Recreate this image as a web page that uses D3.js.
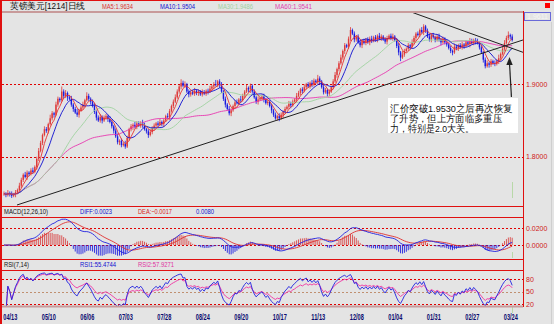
<!DOCTYPE html>
<html><head><meta charset="utf-8">
<script src="https://cdn.jsdelivr.net/npm/d3@7"></script>
<style>
html,body{margin:0;padding:0;background:#e4e4e4;overflow:hidden}
svg{display:block}
text{font-family:"Liberation Sans",Arial,sans-serif}
</style></head><body>
<svg id="c" width="554" height="324"></svg>
<script>
// ---------------- DATA ----------------
const closes = [
1.749,1.747,1.750,1.749,1.746,1.748,1.751,1.754,
1.760,1.768,1.775,1.772,1.778,1.776,1.781,1.779,1.786,
1.797,1.808,1.819,1.830,1.838,1.836,1.845,1.853,1.860,1.858,1.872,1.880,1.878,
1.890,1.884,1.888,1.882,1.880,1.872,
1.866,1.861,1.858,1.864,1.868,
1.872,1.878,1.884,1.880,1.876,1.870,
1.862,1.854,1.850,1.855,1.850,
1.854,1.856,1.852,1.848,
1.842,1.836,1.828,1.820,1.822,1.816,1.818,1.814,
1.826,1.838,1.842,
1.844,1.841,1.846,1.843,1.847,1.844,1.838,
1.835,1.830,1.834,1.840,
1.843,1.846,1.844,1.848,1.845,1.850,1.856,1.855,1.863,
1.870,1.876,1.882,1.890,1.897,1.902,1.898,1.900,
1.890,1.886,1.889,1.887,1.891,1.888,1.890,1.886,1.889,1.887,1.891,1.890,
1.894,1.897,1.900,1.899,1.904,1.899,
1.890,1.880,1.872,1.866,1.860,1.864,
1.870,1.875,1.874,1.879,1.878,1.884,
1.890,1.895,1.893,1.898,1.890,
1.882,1.876,1.879,1.881,1.883,1.879,1.874,1.876,1.870,
1.864,1.858,1.853,1.856,
1.853,1.858,1.862,1.866,1.869,1.873,1.871,1.876,1.879,1.884,
1.888,1.893,1.891,1.896,1.900,1.897,1.902,1.900,1.905,1.903,
1.908,1.904,1.896,1.889,1.892,1.887,1.890,1.896,
1.904,1.913,1.921,1.929,1.937,1.946,1.954,1.952,1.963,1.975,1.970,
1.962,1.966,1.958,1.954,1.960,1.957,1.962,1.958,1.963,1.960,1.965,1.962,1.967,1.963,
1.966,1.962,1.959,1.963,1.967,1.964,1.966,1.961,
1.953,1.944,1.937,1.941,
1.946,1.949,1.954,1.952,1.958,
1.964,1.970,1.968,1.975,1.972,1.980,1.974,1.966,
1.962,1.968,1.965,1.961,1.966,
1.962,1.958,1.963,1.958,1.955,1.950,
1.946,1.944,1.952,1.950,
1.954,1.951,1.955,1.953,1.958,1.956,1.960,1.957,1.961,1.959,
1.957,1.951,1.944,1.934,1.925,1.929,1.927,1.932,1.929,
1.928,1.932,1.936,1.942,1.949,1.957,1.964,1.968,1.966,1.961
];
const firstOpen = 1.748;
// wick lengths above / below the candle body, in thousandths
const upWick = [
3,2,4,2,3,2,3,2,4,3, 2,4,3,2,3,4,2,3,4,3, 2,4,3,2,5,3,2,4,3,2, 7,3,4,2,3,4,2,3,5,2,
3,4,2,5,3,2,3,4,2,3, 4,2,3,3,2,4,3,2,3,4, 2,3,2,4,3,2,3,2,4,3, 3,2,4,3,2,3,4,2,3,2,
3,4,2,3,2,4,3,2,3,4, 3,2,5,3,4,2,3,2,3,4, 2,3,2,4,3,2,3,4,2,3, 6,2,3,4,2,3,2,4,3,2,
3,4,2,5,3,2,4,2,3,2, 3,2,4,2,3,4,2,3,2,3, 2,3,2,4,3,2,3,2,4,3, 3,2,4,3,2,3,4,2,3,2,
4,3,2,5,3,2,4,3,2,3, 2,3,4,2,3,4,2,3,2,3, 4,2,3,2,3,4,2,3,2,3, 3,4,2,3,2,4,3,2,3,4,
2,3,4,2,3,4,2,5,3,2, 3,2,4,3,2,3,2,4,3,2, 3,4,2,3,2,3,4,2,3,2, 4,2,3,2,4,3,2,3,4,2,
3,2,4,3,2,3,4,2,3,2, 3,4,2,3,2,4,3,5,2,3, 4,3,5,2,3
];
const dnWick = [
2,3,2,4,3,2,4,3,2,3, 3,2,4,3,2,3,2,4,3,2, 3,2,3,4,2,3,4,2,3,3, 2,4,3,5,2,3,4,2,3,4,
2,3,4,2,3,4,2,3,4,2, 3,4,2,3,4,2,3,4,2,3, 4,3,2,3,2,4,3,5,2,3, 2,3,4,2,3,4,2,3,4,2,
3,2,3,4,2,3,4,2,3,2, 2,3,4,2,3,2,4,3,2,3, 3,4,2,3,2,3,4,2,3,4, 2,3,4,2,3,4,2,3,4,2,
3,2,3,4,2,3,2,4,5,3, 2,3,4,2,3,4,2,3,2,4, 3,2,3,4,2,5,3,2,3,4, 2,3,4,2,3,4,2,3,2,3,
4,3,2,3,4,2,3,2,4,3, 2,3,2,4,3,2,3,4,2,3, 3,2,4,3,2,3,4,2,3,2, 4,3,2,3,4,2,3,2,3,4,
2,3,4,2,3,4,5,2,3,2, 3,4,2,3,4,2,3,2,4,3, 2,3,4,2,3,2,3,4,2,3, 3,2,3,4,2,3,4,2,3,4,
2,3,5,2,3,4,2,3,2,4, 3,2,4,3,2,3,2,4,3,2, 3,2,3,4,2
];
const tickLabels = ["04/13","05/10","06/06","07/03","07/28","08/24","09/20","10/17","11/13","12/08","01/04","01/31","02/27","03/24"];
const tickBars   = [3,23,43,63,83,103,123,143,163,183,203,223,243,263];
const priceTicks = [1.9, 1.8];
const macdTicks  = [0.02, 0];
const rsiTicks   = [80, 50, 20];
const maPeriods  = [5, 10, 30, 60];
const maShown    = [1.9634, 1.9504, 1.9486, 1.9541];   // legend values as printed
const macdShown  = [0.0023, -0.0017, 0.0080];           // DIFF, DEA, MACD as printed
const rsiShown   = [55.4744, 57.9271];                  // RSI1, RSI2 as printed
const trendUp    = [[6.75, 1.7333], [269.6, 1.9612]];
const trendDown  = [[212.5, 1.9989], [269.6, 1.9442]];
const arrowPts   = [[263.6, 1.8825], [262.6, 1.9377]];
const lastPrice  = 1.9611;
const titleText  = "英镑美元[1214]日线";
const noteLines  = ["汇价突破1.9530之后再次恢复", "了升势，但上方面临多重压", "力，特别是2.0大关。"];

// ---------------- DERIVED ----------------
const n = closes.length;
const opens = closes.map((c, i) => i === 0 ? firstOpen : closes[i - 1]);
const highs = closes.map((c, i) => Math.max(c, opens[i]) + upWick[i] / 1000);
const lows  = closes.map((c, i) => Math.min(c, opens[i]) - dnWick[i] / 1000);
function ma(p) { return closes.map((c, i) => d3.mean(closes.slice(Math.max(0, i - p + 1), i + 1))); }
const mas = maPeriods.map(ma);
function emaArr(arr, p) { const k = 2 / (p + 1); const out = []; arr.forEach((v, i) => out.push(i === 0 ? v : out[i - 1] + k * (v - out[i - 1]))); return out; }
const e12 = emaArr(closes, 12), e26 = emaArr(closes, 26);
const diff = closes.map((c, i) => e12[i] - e26[i]);
const dea = (() => { const k = 2 / 11; const o = []; diff.forEach((v, i) => o.push(i === 0 ? 0 : o[i - 1] + k * (v - o[i - 1]))); return o; })();
const hist = diff.map((v, i) => 2 * (v - dea[i]));
function rsi(N) {
  let up = 0, ab = 0; const o = [];
  closes.forEach((c, i) => {
    if (i === 0) { o.push(null); return; }
    const d = c - closes[i - 1];
    up = (Math.max(d, 0) + (N - 1) * up) / N;
    ab = (Math.abs(d) + (N - 1) * ab) / N;
    o.push(ab === 0 ? 50 : up / ab * 100);
  });
  return o;
}
const rsi7 = rsi(7), rsi14 = rsi(14);

// ---------------- LAYOUT ----------------
const svg = d3.select("#c");
const L = 2, R = 523;
const main = {top: 13, bot: 206};
const macdP = {top: 217, bot: 259};
const rsiP = {top: 270, bot: 306};
const x = d3.scaleLinear().domain([0, n - 1]).range([4, 4 + (n - 1) * 1.925]);
const yM = d3.scaleLinear().domain([1.8, 1.9]).range([156.7, 84.3]);
const yD = d3.scaleLinear().domain([0, 0.02]).range([245, 228.3]);
const yR = d3.scaleLinear().domain([20, 80]).range([304, 279.3]);

svg.append("rect").attr("width", 554).attr("height", 324).attr("fill", "#e4e4e4");
const defs = svg.append("defs");
[["cm", main], ["cd", macdP], ["cr", rsiP]].forEach(([id, p]) => {
  defs.append("clipPath").attr("id", id).append("rect").attr("x", L).attr("y", p.top).attr("width", R - L).attr("height", p.bot - p.top);
});

function dashes(g, ticks, y, colFn) {
  g.selectAll(null).data(ticks).join("line")
    .attr("x1", L).attr("x2", R).attr("y1", d => Math.round(y(d)) + 0.5).attr("y2", d => Math.round(y(d)) + 0.5)
    .attr("stroke", colFn || "#e00000").attr("stroke-width", 1).attr("stroke-dasharray", "2,2");
}
const gMain = svg.append("g").attr("clip-path", "url(#cm)");
dashes(gMain, priceTicks, yM);
const gMacd = svg.append("g").attr("clip-path", "url(#cd)");
dashes(gMacd, macdTicks, yD);
const gRsi = svg.append("g").attr("clip-path", "url(#cr)");
dashes(gRsi, rsiTicks, yR, d => d === 50 ? "#c09070" : "#e00000");

// candles
const upC = "#dd3a3a", dnC = "#1a1ae0";
const idx = d3.range(n);
gMain.selectAll(".wick").data(idx).join("line")
  .attr("x1", i => x(i)).attr("x2", i => x(i))
  .attr("y1", i => yM(highs[i])).attr("y2", i => yM(lows[i]))
  .attr("stroke", i => closes[i] >= opens[i] ? upC : dnC).attr("stroke-width", 0.8);
gMain.selectAll(".body").data(idx).join("rect")
  .attr("x", i => x(i) - 0.7).attr("width", 1.4)
  .attr("y", i => yM(Math.max(opens[i], closes[i])))
  .attr("height", i => Math.max(0.8, Math.abs(yM(opens[i]) - yM(closes[i]))))
  .attr("fill", i => closes[i] >= opens[i] ? upC : dnC);

// moving averages
const maColors = ["#e83030", "#1010d0", "#9fd39f", "#e838b0"];
const lineM = d3.line().x((d, i) => x(i)).y(d => yM(d));
[3, 2, 1, 0].forEach(k => {
  gMain.append("path").attr("d", lineM(mas[k])).attr("fill", "none").attr("stroke", maColors[k]).attr("stroke-width", 0.9);
});

// trendlines
const tl = d3.line().x(d => x(d[0])).y(d => yM(d[1]));
[trendUp, trendDown].forEach(t => gMain.append("path").attr("d", tl(t)).attr("stroke", "#202020").attr("stroke-width", 1).attr("fill", "none"));

// cursor line segments (light green)
const cx = Math.round(x(n - 1)) + 0.5;
[[182, 198], [252, 258], [307, 313]].forEach(s => svg.append("line").attr("x1", cx).attr("x2", cx).attr("y1", s[0]).attr("y2", s[1]).attr("stroke", "#b8d8a8"));

// annotation
svg.append("rect").attr("x", 388).attr("y", 98).attr("width", 130).attr("height", 35).attr("fill", "#ffffff");
const noteLens = [123, 112, 84];
noteLines.forEach((t, i) => {
  svg.append("text").attr("x", 390).attr("y", 112 + i * 10.2).text(t)
    .attr("font-family", "'Noto Sans CJK SC','Noto Sans',sans-serif").attr("font-size", 9.6).attr("fill", "#111")
    .attr("textLength", noteLens[i]).attr("lengthAdjust", "spacingAndGlyphs");
});
const ax1 = x(arrowPts[0][0]), ay1 = yM(arrowPts[0][1]), ax2 = x(arrowPts[1][0]), ay2 = yM(arrowPts[1][1]);
svg.append("line").attr("x1", ax1).attr("y1", ay1).attr("x2", ax2).attr("y2", ay2 + 6).attr("stroke", "#222").attr("stroke-width", 1.2);
svg.append("path").attr("d", `M${ax2},${ay2} L${ax2 - 3.2},${ay2 + 8} L${ax2 + 3.2},${ay2 + 8} Z`).attr("fill", "#222");

// MACD histogram & lines
gMacd.selectAll(".h").data(idx).join("line")
  .attr("x1", i => x(i)).attr("x2", i => x(i))
  .attr("y1", yD(0)).attr("y2", i => yD(hist[i]))
  .attr("stroke", i => hist[i] >= 0 ? "#d84848" : "#2020e0").attr("stroke-width", 0.9);
const lineD = d3.line().x((d, i) => x(i)).y(d => yD(d));
gMacd.append("path").attr("d", lineD(dea)).attr("fill", "none").attr("stroke", "#e03030").attr("stroke-width", 0.9);
gMacd.append("path").attr("d", lineD(diff)).attr("fill", "none").attr("stroke", "#2020e0").attr("stroke-width", 0.9);

// RSI lines
const lineR = d3.line().defined(d => d != null).x((d, i) => x(i)).y(d => yR(d));
gRsi.append("path").attr("d", lineR(rsi14)).attr("fill", "none").attr("stroke", "#f030a0").attr("stroke-width", 0.9);
gRsi.append("path").attr("d", lineR(rsi7)).attr("fill", "none").attr("stroke", "#2020e0").attr("stroke-width", 0.9);

// frame lines
const red = "#e01010", rose = "#c89a9a";
svg.append("line").attr("x1", 0).attr("x2", 554).attr("y1", 0.5).attr("y2", 0.5).attr("stroke", red);
svg.append("rect").attr("x", 0).attr("y", 0).attr("width", 2).attr("height", 324).attr("fill", red);
svg.append("rect").attr("x", 2).attr("y", 11).attr("width", R - 2).attr("height", 2).attr("fill", rose);
svg.append("rect").attr("x", 2).attr("y", 305.5).attr("width", R - 2).attr("height", 2).attr("fill", rose);
[206, 217, 259, 270].forEach(yy => svg.append("line").attr("x1", 2).attr("x2", R).attr("y1", yy + 0.5).attr("y2", yy + 0.5).attr("stroke", red));
svg.append("line").attr("x1", R + 0.5).attr("x2", R + 0.5).attr("y1", 11).attr("y2", 307).attr("stroke", red);
svg.append("rect").attr("x", 545).attr("y", 3).attr("width", 5).attr("height", 5).attr("fill", "#ff0000");
svg.append("line").attr("x1", 551.5).attr("x2", 551.5).attr("y1", 22).attr("y2", 324).attr("stroke", "#cfcfcf");
svg.append("rect").attr("x", 524.5).attr("y", 12.5).attr("width", 26).attr("height", 8).attr("fill", "none").attr("stroke", "#6a6ad8");
svg.append("text").attr("x", 537.5).attr("y", 19.3).attr("text-anchor", "middle").attr("font-size", 7).attr("fill", "#f4f4f4").text(d3.format(".4f")(lastPrice));

// right axes
function rAxis(scale, ticks, fmt) {
  const g = svg.append("g").attr("transform", `translate(${R},0)`)
    .call(d3.axisRight(scale).tickValues(ticks).tickFormat(fmt).tickSize(0).tickPadding(3));
  g.select(".domain").remove();
  g.selectAll("text").attr("font-size", 7).attr("fill", "#d01818").attr("font-family", "'Liberation Sans',Arial,sans-serif");
}
rAxis(yM, priceTicks, d3.format(".4f"));
rAxis(yD, macdTicks, d3.format(".4f"));
rAxis(yR, rsiTicks, d3.format("d"));

// x axis
const gx = svg.append("g").attr("transform", `translate(0,${rsiP.bot + 1})`)
  .call(d3.axisBottom(x).tickValues(tickBars).tickFormat((d, i) => tickLabels[i]).tickSize(0).tickPadding(7));
gx.select(".domain").remove();
gx.selectAll("text").attr("font-size", 8.5).attr("font-weight", "bold").attr("fill", "#0c0c70")
  .attr("textLength", 14).attr("lengthAdjust", "spacingAndGlyphs").attr("font-family", "'Liberation Sans',Arial,sans-serif");

// header texts
function hText(xx, yy, t, col, len, fam, fs) {
  svg.append("text").attr("x", xx).attr("y", yy).text(t).attr("fill", col).attr("font-size", fs || 7)
    .attr("font-family", fam || "'Liberation Sans',Arial,sans-serif")
    .attr("textLength", len).attr("lengthAdjust", "spacingAndGlyphs");
}
const f4 = d3.format(".4f");
hText(10, 9, titleText, "#111", 75, "'Noto Sans CJK SC',sans-serif", 8.5);
const maX = [102, 160, 218, 275], maLen = [31, 35, 35, 37], maTxt = ["#d83030", "#1010d0", "#a0d0a0", "#e040b0"];
maPeriods.forEach((p, k) => hText(maX[k], 9, "MA" + p + ":" + f4(maShown[k]), maTxt[k], maLen[k]));
hText(4, 214, "MACD(12,26,10)", "#111", 44);
hText(80, 214, "DIFF:" + f4(macdShown[0]), "#1010d0", 32);
hText(138, 214, "DEA:" + f4(macdShown[1]), "#d82020", 34);
hText(196, 214, f4(macdShown[2]), "#1010d0", 18);
hText(4, 267, "RSI(7,14)", "#111", 25);
hText(80, 267, "RSI1:" + f4(rsiShown[0]), "#1010d0", 36);
hText(138, 267, "RSI2:" + f4(rsiShown[1]), "#e030a0", 36);
</script>
</body></html>
